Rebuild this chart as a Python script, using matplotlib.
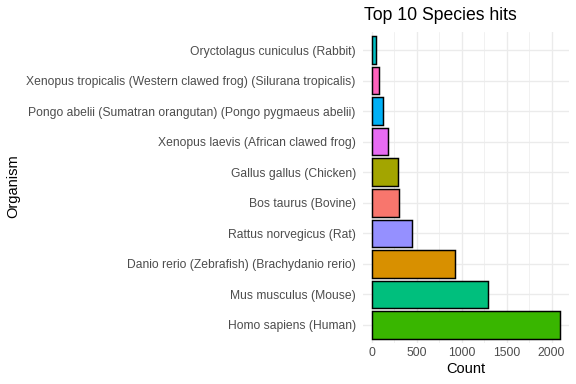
import matplotlib
matplotlib.use("Agg")
import matplotlib.pyplot as plt
from matplotlib.ticker import MultipleLocator

organisms = [
    "Homo sapiens (Human)",
    "Mus musculus (Mouse)",
    "Danio rerio (Zebrafish) (Brachydanio rerio)",
    "Rattus norvegicus (Rat)",
    "Bos taurus (Bovine)",
    "Gallus gallus (Chicken)",
    "Xenopus laevis (African clawed frog)",
    "Pongo abelii (Sumatran orangutan) (Pongo pygmaeus abelii)",
    "Xenopus tropicalis (Western clawed frog) (Silurana tropicalis)",
    "Oryctolagus cuniculus (Rabbit)",
]
counts = [2089, 1294, 923, 448, 303, 288, 184, 128, 84, 50]
colors = [
    "#39B600", "#00BF7D", "#D89000", "#9590FF", "#F8766D",
    "#A3A500", "#E76BF3", "#00B0F6", "#FF62BC", "#00BFC4",
]
xticks = [0, 500, 1000, 1500, 2000]

plt.rcParams["font.family"] = ["Liberation Sans", "DejaVu Sans"]

W, H = 576, 384
fig = plt.figure(figsize=(W / 96, H / 96), dpi=96)
left, right, top, bottom = 362.5, 569.0, 31.7, 343.3
ax = fig.add_axes([left / W, 1 - bottom / H, (right - left) / W, (bottom - top) / H])

ypos = list(range(len(organisms)))
ax.barh(ypos, counts, height=0.9, color=colors, edgecolor="black", linewidth=1.1, zorder=3)

ax.set_yticks(ypos)
ax.set_yticklabels(organisms)
ax.set_xticks(xticks)
ax.xaxis.set_minor_locator(MultipleLocator(250))
mx = max(counts)
ax.set_xlim(-0.05 * mx, 1.05 * mx)
ax.set_ylim(-0.6, len(organisms) - 0.4)

ax.grid(True, which="major", color="#EBEBEB", linewidth=1.0, zorder=0)
ax.grid(True, which="minor", axis="x", color="#EBEBEB", linewidth=0.5, zorder=0)
for s in ax.spines.values():
    s.set_visible(False)
ax.tick_params(axis="both", which="both", length=0, labelsize=9.1, labelcolor="#4D4D4D")
ax.tick_params(axis="y", pad=5)
ax.tick_params(axis="x", pad=3)

ax.set_xlabel("Count", fontsize=11, color="black", labelpad=2)
fig.text(6 / W, 1 - 186.5 / H, "Organism", rotation=90, fontsize=11,
         ha="left", va="center")
fig.text(364 / W, 1 - 20.5 / H, "Top 10 Species hits", fontsize=13.2,
         ha="left", va="baseline")

fig.savefig("out.png", dpi=96, facecolor="white")
